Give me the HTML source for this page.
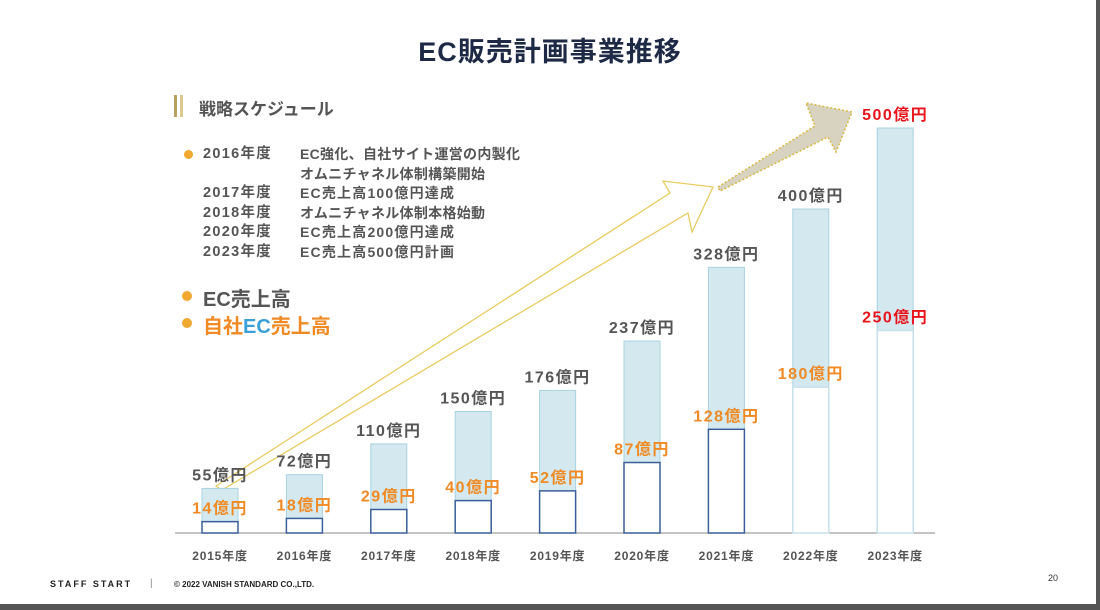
<!DOCTYPE html>
<html><head><meta charset="utf-8">
<style>
body{margin:0;width:1100px;height:610px;overflow:hidden;background:#555;font-family:"Liberation Sans","Noto Sans CJK JP",sans-serif;}
#page{position:absolute;left:0;top:0;width:1096px;height:604px;background:#fff;}
.t{position:absolute;white-space:nowrap;}
</style></head><body>
<div id="page">
<div class="t" style="left:0;width:1100px;text-align:center;top:30px;font-size:27px;font-weight:bold;color:#1e2a45;letter-spacing:1px;">EC販売計画事業推移</div>
<div style="position:absolute;left:174px;top:95px;width:3px;height:22px;background:#b8a060;"></div>
<div style="position:absolute;left:180px;top:95px;width:3px;height:22px;background:#d9c890;"></div>
<div class="t" style="left:199px;top:95px;font-size:17px;font-weight:bold;color:#555;">戦略スケジュール</div>
<div style="position:absolute;left:184px;top:150px;width:9px;height:9px;border-radius:50%;background:#f0a830;"></div>
<div style="position:absolute;left:203px;top:145px;font-size:14.5px;font-weight:bold;color:#555;line-height:19.5px;letter-spacing:1.3px;">
<div>2016年度</div><div>&nbsp;</div><div>2017年度</div><div>2018年度</div><div>2020年度</div><div>2023年度</div></div>
<div style="position:absolute;left:300px;top:145px;font-size:14px;font-weight:bold;color:#555;line-height:19.5px;letter-spacing:0.3px;">
<div>EC強化、自社サイト運営の内製化</div><div>オムニチャネル体制構築開始</div><div style="letter-spacing:1.2px">EC売上高100億円達成</div><div>オムニチャネル体制本格始動</div><div style="letter-spacing:1.2px">EC売上高200億円達成</div><div style="letter-spacing:1.2px">EC売上高500億円計画</div></div>
<div style="position:absolute;left:182px;top:291px;width:10px;height:10px;border-radius:50%;background:#f0a830;"></div>
<div class="t" style="left:203px;top:283px;font-size:20px;font-weight:bold;color:#555;">EC売上高</div>
<div style="position:absolute;left:182px;top:318px;width:10px;height:10px;border-radius:50%;background:#f0a830;"></div>
<div class="t" style="left:203px;top:310px;font-size:20px;font-weight:bold;color:#f08a24;">自社<span style="color:#3aa0d8">EC</span>売上高</div>
<svg id="chart" width="1100" height="610" style="position:absolute;left:0;top:0">
<polygon points="216,486 670,193 663,181 713,187 692,232 688,213 222,490" fill="none" stroke="#e8cc60" stroke-width="1.3"/>
<polygon points="718,187 815,126 806,103 852,112 836,152 828,137 720,191" fill="#d8d3c0" stroke="#d8b840" stroke-width="1.5" stroke-dasharray="2,2"/>
<line x1="175" y1="533" x2="935" y2="533" stroke="#888" stroke-width="1"/>
<g id="bars"></g>
</svg>
<div class="t" style="left:50px;top:579px;font-size:9px;font-weight:bold;letter-spacing:2px;color:#222;">STAFF START</div>
<div class="t" style="left:150px;top:578px;font-size:10px;color:#888;">|</div>
<div class="t" style="left:174px;top:580px;font-size:8px;font-weight:bold;color:#222;">© 2022 VANISH STANDARD CO.,LTD.</div>
<div class="t" style="left:1048px;top:573px;font-size:9px;color:#333;">20</div>
</div>
<script>
const years=["2015年度","2016年度","2017年度","2018年度","2019年度","2020年度","2021年度","2022年度","2023年度"];
const totalSales=[55,72,110,150,176,237,328,400,500];
const ownSales=[14,18,29,40,52,87,128,180,250];
const NS="http://www.w3.org/2000/svg";
const g=document.getElementById('bars');
const base=533, scale=0.81, x0=220, step=84.4, bw=36;
const xc=i=>x0+i*step, y=v=>base-v*scale;
function mk(tag,attrs){const e=document.createElementNS(NS,tag);for(const k in attrs)e.setAttribute(k,attrs[k]);g.appendChild(e);return e;}
years.forEach((yr,i)=>{
  const plan=i>=7;
  const r=mk('rect',{x:xc(i)-bw/2,y:y(totalSales[i]),width:bw,height:totalSales[i]*scale,fill:'#d3e9ef',stroke:'#a8d2e0','stroke-width':1});
  
  
  const r2=mk('rect',{x:xc(i)-bw/2,y:y(ownSales[i]),width:bw,height:ownSales[i]*scale,fill:'#fff',stroke:plan?'#c8e0ea':'#3a5f9a','stroke-width':1.5});
  
  
  const t1=mk('text',{x:xc(i),y:y(totalSales[i])-8,'text-anchor':'middle','font-size':16,'font-weight':'bold','letter-spacing':1.5,fill:i==8?'#e8141c':'#555'});
  t1.textContent=totalSales[i]+'億円';
  
  
  const t2=mk('text',{x:xc(i),y:y(ownSales[i])-8,'text-anchor':'middle','font-size':16,'font-weight':'bold','letter-spacing':1.5,fill:i==8?'#e8141c':'#f08a24'});
  t2.textContent=ownSales[i]+'億円';
  
  
  const t3=mk('text',{x:xc(i),y:560,'text-anchor':'middle','font-size':12,'font-weight':'bold','letter-spacing':0.8,fill:'#555'});
  t3.textContent=yr;
  
  
});
</script>
</body></html>
